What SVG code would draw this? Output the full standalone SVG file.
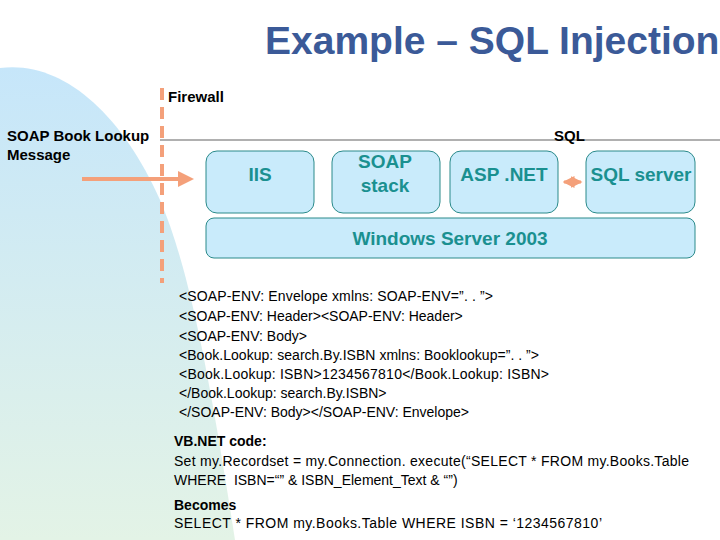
<svg xmlns="http://www.w3.org/2000/svg" width="720" height="540" viewBox="0 0 720 540">
<defs>
<linearGradient id="bg" x1="0" y1="0" x2="0" y2="1"><stop offset="0" stop-color="#c6e6fa"/><stop offset="1" stop-color="#e3f3e6"/></linearGradient>
<marker id="ah" markerWidth="4" markerHeight="4" refX="3" refY="2" orient="auto" markerUnits="strokeWidth"><path d="M0,0 L4,2 L0,4 z" fill="#f4a07a"/></marker>
<marker id="sa" markerWidth="4" markerHeight="4" refX="3.5" refY="2" orient="auto-start-reverse" markerUnits="strokeWidth"><path d="M0,0 L4,2 L0,4 z" fill="#f4a07a"/></marker>
<style>
.box{fill:#c9ebfb;stroke:#2a8a8a;stroke-width:1}
.bt{font-family:"Liberation Sans",Arial,sans-serif;font-size:19px;font-weight:bold;fill:#1a9090;text-anchor:middle}
.t{font-family:"Liberation Sans",Arial,sans-serif;font-size:15px;font-weight:bold;fill:#000}
.c{font-family:"Liberation Sans",Arial,sans-serif;font-size:14px;fill:#000}
</style>
</defs>
<path d="M0,68 C60,60 120,110 160,200 C190,270 210,380 235,540 L0,540 Z" fill="url(#bg)"/>
<text x="265" y="54" font-family="Liberation Sans,Arial,sans-serif" font-size="39" font-weight="bold" fill="#3b5a98">Example – SQL Injection</text>
<g id="connectors">
<line x1="160" y1="140" x2="720" y2="140" stroke="#b0b0b0" stroke-width="2"/>
<line x1="162" y1="88" x2="162" y2="283" stroke="#f4a07a" stroke-width="4" stroke-dasharray="12,7"/>
<line x1="82" y1="179" x2="190" y2="179" stroke="#f4a07a" stroke-width="4" marker-end="url(#ah)"/>
<line x1="564" y1="182" x2="581" y2="182" stroke="#f4a07a" stroke-width="3" marker-start="url(#sa)" marker-end="url(#sa)"/>
</g>
<text class="t" x="168" y="102">Firewall</text>
<text class="t" x="7" y="141">SOAP Book Lookup</text>
<text class="t" x="7" y="160">Message</text>
<text class="t" x="554" y="141">SQL</text>
<g id="iis"><rect class="box" x="206" y="151" width="108" height="62" rx="11"/><text class="bt" x="260" y="181">IIS</text></g>
<g id="soap"><rect class="box" x="332" y="151" width="108" height="62" rx="11"/><text class="bt" x="385" y="168">SOAP</text><text class="bt" x="385" y="192">stack</text></g>
<g id="asp"><rect class="box" x="450" y="151" width="108" height="62" rx="11"/><text class="bt" x="504" y="181">ASP .NET</text></g>
<g id="sql"><rect class="box" x="586" y="151" width="109" height="62" rx="11"/><text class="bt" x="641" y="181">SQL server</text></g>
<g id="win"><rect class="box" x="206" y="218" width="489" height="40" rx="8"/><text class="bt" x="450" y="245">Windows Server 2003</text></g>
<g class="c">
<text x="179" y="301" textLength="314">&lt;SOAP-ENV: Envelope xmlns: SOAP-ENV=”. . ”&gt;</text>
<text x="179" y="321">&lt;SOAP-ENV: Header&gt;&lt;SOAP-ENV: Header&gt;</text>
<text x="179" y="341">&lt;SOAP-ENV: Body&gt;</text>
<text x="179" y="360" textLength="360">&lt;Book.Lookup: search.By.ISBN xmlns: Booklookup=”. . ”&gt;</text>
<text x="179" y="379" textLength="370">&lt;Book.Lookup: ISBN&gt;1234567810&lt;/Book.Lookup: ISBN&gt;</text>
<text x="179" y="398">&lt;/Book.Lookup: search.By.ISBN&gt;</text>
<text x="179" y="417">&lt;/SOAP-ENV: Body&gt;&lt;/SOAP-ENV: Envelope&gt;</text>
<text x="174" y="446" font-weight="bold">VB.NET code:</text>
<text x="174" y="466" textLength="515">Set my.Recordset = my.Connection. execute(“SELECT * FROM my.Books.Table</text>
<text x="174" y="485" xml:space="preserve">WHERE  ISBN=“” &amp; ISBN_Element_Text &amp; “”)</text>
<text x="174" y="510" font-weight="bold">Becomes</text>
<text x="174" y="528" textLength="428">SELECT * FROM my.Books.Table WHERE ISBN = ‘1234567810’</text>
</g>
</svg>
